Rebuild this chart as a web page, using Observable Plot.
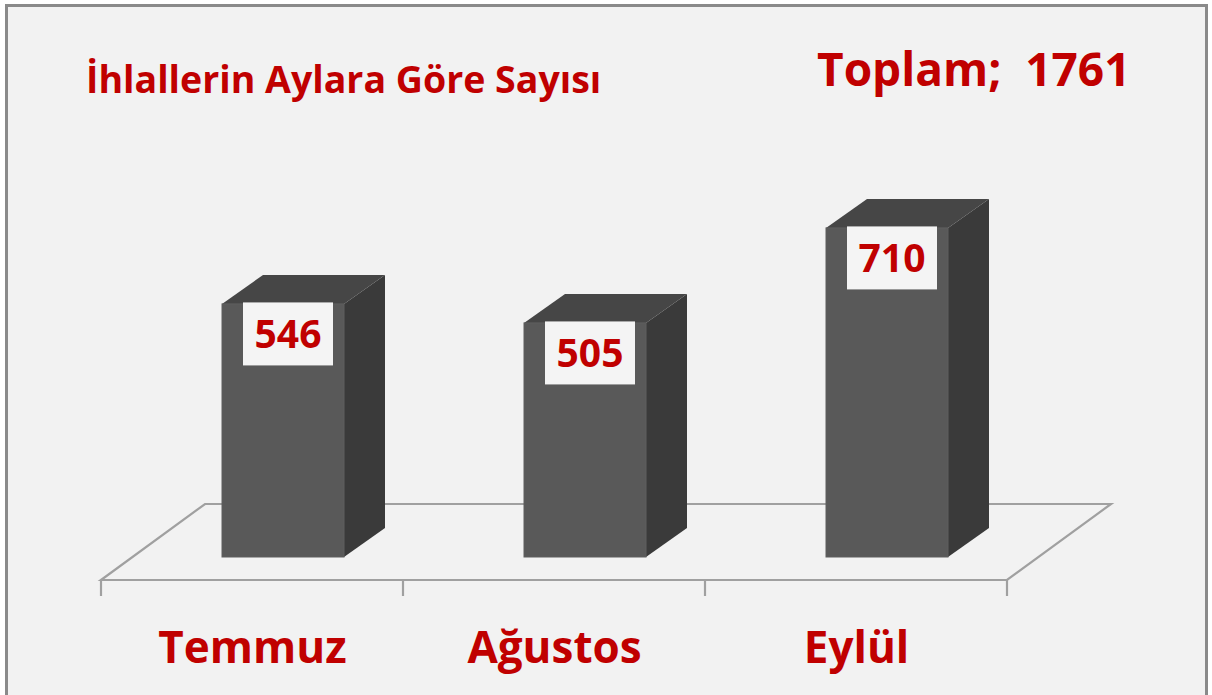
<!DOCTYPE html>
<html>
<head>
<meta charset="utf-8">
<script src="https://cdn.jsdelivr.net/npm/d3@7"></script>
<script src="https://cdn.jsdelivr.net/npm/@observablehq/plot@0.6"></script>
<style>
  html, body { margin: 0; padding: 0; background: #ffffff; }
  #wrap { position: relative; width: 1212px; height: 695px; overflow: hidden; font-family: "Open Sans", sans-serif; }
  #frame { position: absolute; left: 5px; top: 4px; width: 1197px; height: 720px; border: 3px solid #8a8a8a; background: #f2f2f2; }
  #chart { position: absolute; left: 0; top: 0; }
  .ttl { position: absolute; color: #c00000; font-weight: 700; white-space: pre; line-height: 1; }
  #title { left: 86px; top: 60px; font-size: 37.5px; }
  #total { left: 817px; top: 45px; font-size: 46px; }
</style>
</head>
<body>
<div id="wrap">
  <div id="frame"></div>
  <div id="chart"></div>
  <div id="title" class="ttl"></div>
  <div id="total" class="ttl"></div>
</div>
<script>
const months = ["Temmuz", "Ağustos", "Eylül"];
const counts = [546, 505, 710];
const titleText = "İhlallerin Aylara Göre Sayısı";
const totalLabel = "Toplam;";

const data = months.map((m, i) => ({month: m, value: counts[i]}));

document.getElementById("title").textContent = titleText;
document.getElementById("total").textContent = totalLabel + "  " + d3.sum(counts);

const RED = "#c00000";
// 3D projection offsets (pixels)
const floorDX = 104, floorDY = -76;   // floor depth
const barOX = 31, barOY = -23;        // bar placement inside depth
const barDX = 41, barDY = -29;        // bar depth

function floorRender(index, scales, values, dimensions) {
  const x = scales.x;
  const bw = x.bandwidth();
  const step = x(months[1]) - x(months[0]);
  const x0 = x(months[0]) - (step - bw) / 2;
  const x1 = x(months[months.length - 1]) + bw + (step - bw) / 2;
  const y0 = values.y[0];
  const g = d3.create("svg:g").attr("fill", "none").attr("stroke", "#a0a0a0").attr("stroke-width", 2.2);
  g.append("path").attr("d",
    `M${x0},${y0}L${x1},${y0}L${x1 + floorDX},${y0 + floorDY}L${x0 + floorDX},${y0 + floorDY}Z`);
  for (let i = 0; i <= months.length; ++i) {
    const tx = x0 + i * step;
    g.append("line").attr("x1", tx).attr("x2", tx).attr("y1", y0).attr("y2", y0 + 16);
  }
  return g.node();
}

function barsRender(index, scales, values, dimensions) {
  const bw = scales.x.bandwidth();
  const g = d3.create("svg:g");
  for (const i of index) {
    const X = values.x[i] + barOX;
    const Yt = values.y2[i] + barOY;
    const Yb = values.y1[i] + barOY;
    const W = bw;
    g.append("path").attr("fill", "#3a3a3a")
      .attr("d", `M${X + W},${Yt}L${X + W + barDX},${Yt + barDY}L${X + W + barDX},${Yb + barDY}L${X + W},${Yb}Z`);
    g.append("path").attr("fill", "#464646")
      .attr("d", `M${X},${Yt}L${X + barDX},${Yt + barDY}L${X + W + barDX},${Yt + barDY}L${X + W},${Yt}Z`);
    g.append("rect").attr("fill", "#595959").attr("stroke", "#5f5f5f").attr("stroke-width", 1)
      .attr("x", X).attr("y", Yt).attr("width", W).attr("height", Yb - Yt);
    const cx = X + W / 2 + 5, cy = Yt + 30;
    g.append("rect").attr("fill", "#f4f4f4")
      .attr("x", cx - 45).attr("y", cy - 31.5).attr("width", 90).attr("height", 63);
    g.append("text").attr("x", cx).attr("y", cy).attr("dy", "0.36em")
      .attr("text-anchor", "middle").attr("fill", RED)
      .attr("font-family", "Open Sans, sans-serif").attr("font-weight", 700).attr("font-size", 39)
      .text(counts[i]);
  }
  return g.node();
}

const chart = Plot.plot({
  width: 1212,
  height: 695,
  margin: 0,
  style: {background: "transparent", overflow: "visible", fontFamily: "Open Sans, sans-serif"},
  x: {type: "band", domain: months, range: [101, 1008], paddingInner: 0.596, paddingOuter: 0.298, axis: null},
  y: {domain: [0, 800], range: [580, 580 - 0.4635 * 800], axis: null},
  marks: [
    Plot.ruleY([0], {render: floorRender}),
    Plot.barY(data, {x: "month", y: "value", render: barsRender}),
    Plot.text(data, {x: "month", y: () => 0, text: "month", dy: 68, fill: RED,
      fontSize: 44, fontWeight: 700, fontFamily: "Open Sans, sans-serif"})
  ]
});
document.getElementById("chart").append(chart);
</script>
</body>
</html>
